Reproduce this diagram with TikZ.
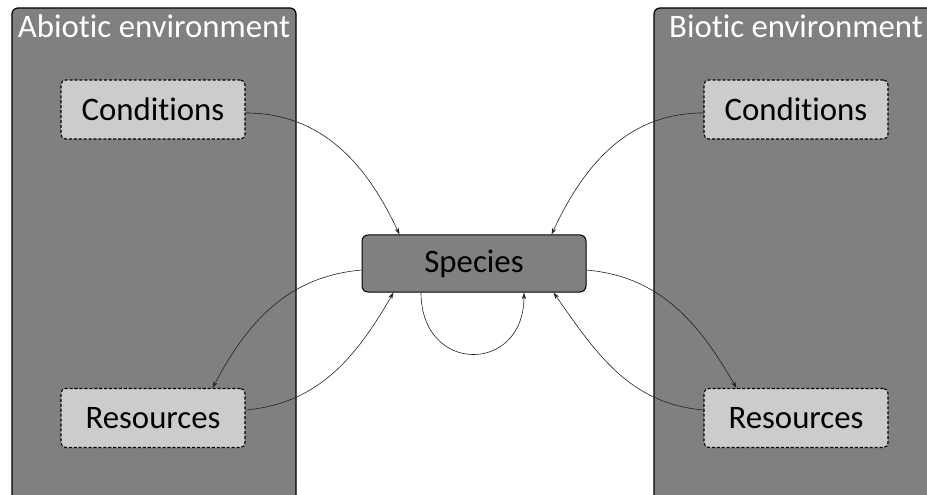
\documentclass[tikz,border=0pt]{standalone}
\usepackage{fontspec}
\setmainfont{Carlito}[Ligatures=NoCommon]
\usetikzlibrary{arrows.meta}
\definecolor{envgray}{HTML}{808080}
\definecolor{boxgray}{HTML}{CCCCCC}
\definecolor{linegray}{HTML}{222222}
\begin{document}
\begin{tikzpicture}[x=0.75pt,y=-0.75pt,
  every node/.style={font=\fontsize{24.6}{28}\selectfont, inner sep=0pt},
  envbox/.style={draw=black, fill=envgray, line width=0.9pt, rounded corners=4.5pt},
  envtitle/.style={text=white, anchor=base},
  factor/.style={draw=black, fill=boxgray, dash pattern=on 2.3pt off 1.4pt, line width=0.8pt,
     rounded corners=3.5pt, minimum width=138pt, minimum height=44.25pt},
  speciesbox/.style={draw=black, fill=envgray, line width=0.75pt, rounded corners=4.5pt,
     minimum width=168pt, minimum height=42.75pt},
  conn/.style={draw=linegray, line width=0.45pt, -{Stealth[length=5pt,width=3.2pt]}}
]
\useasboundingbox (0,0) rectangle (927,495);
\begin{scope}
\clip (0,0) rectangle (927,495);
\draw[envbox] (12,8) rectangle (296,530);
\draw[envbox] (654,8) rectangle (938,530);
\end{scope}
\node[envtitle] (abt) at (154,38) {Abiotic environment};
\node[envtitle] (bit) at (796,38) {Biotic environment};
\node[factor] (lc) at (153,109.5) {Conditions};
\node[factor] (lr) at (153,418) {Resources};
\node[factor] (rc) at (796,109.5) {Conditions};
\node[factor] (rr) at (796,418) {Resources};
\node[speciesbox] (sp) at (474,263.5) {Species};

\draw[conn] ([yshift=-2.6pt]lc.east) to[out=0,in=115] ([xshift=28.5pt]sp.north west);
\draw[conn] ([yshift=-2.6pt]rc.west) to[out=180,in=65] ([xshift=-26.25pt]sp.north east);
\draw[conn] ([yshift=-4.9pt]sp.west) to[out=185,in=62] ([xshift=114pt]lr.north west);
\draw[conn] ([yshift=6pt]lr.east) to[out=5,in=-120] ([xshift=24pt]sp.south west);
\draw[conn] ([xshift=-39.75pt]sp.south) .. controls +(0,82) and +(0,82) .. ([xshift=37.5pt]sp.south);
\draw[conn] ([yshift=-4.9pt]sp.east) to[out=-5,in=120] ([xshift=24.75pt]rr.north west);
\draw[conn] ([yshift=6pt]rr.west) to[out=175,in=-55] ([xshift=-24.75pt]sp.south east);
\end{tikzpicture}
\end{document}
